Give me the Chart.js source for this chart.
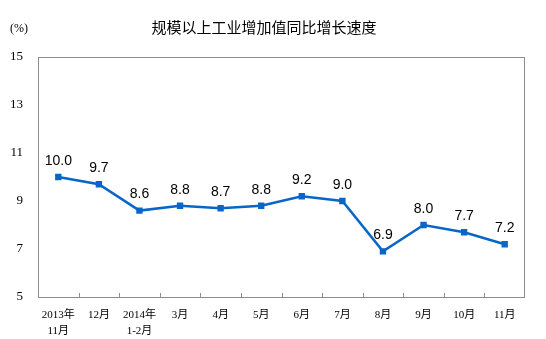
<!DOCTYPE html>
<html>
<head>
<meta charset="utf-8">
<script src="https://cdn.jsdelivr.net/npm/chart.js@4/dist/chart.umd.min.js"></script>
<style>
  html, body { margin: 0; padding: 0; background: #fff; }
  #wrap { width: 546px; height: 339px; }
</style>
</head>
<body>
<div id="wrap"><canvas id="chart" width="546" height="339"></canvas></div>
<script>
const MONTHS = [['2013年', '11月'], '12月', ['2014年', '1-2月'], '3月', '4月', '5月', '6月', '7月', '8月', '9月', '10月', '11月'];
const GROWTH = [10.0, 9.7, 8.6, 8.8, 8.7, 8.8, 9.2, 9.0, 6.9, 8.0, 7.7, 7.2];
const Y_TICKS = [5, 7, 9, 11, 13, 15];

const TITLE = '规模以上工业增加值同比增长速度';
const LINE_COLOR = '#0866c8';

// title, unit, plot frame, small inner tick marks and value labels
const decor = {
  id: 'decor',
  afterDraw(chart) {
    const ctx = chart.ctx;
    const a = chart.chartArea;
    const x = chart.scales.x;
    ctx.save();
    ctx.fillStyle = '#000';
    ctx.textAlign = 'center';
    ctx.textBaseline = 'middle';
    ctx.font = '15px "Noto Sans CJK SC"';
    ctx.fillText(TITLE, 264, 27);
    ctx.font = '12px "Liberation Serif"';
    ctx.fillText('(%)', 19, 29);

    ctx.strokeStyle = '#8c8c8c';
    ctx.lineWidth = 1;
    ctx.strokeRect(a.left + 0.5, a.top + 0.5, a.right - a.left - 1, a.bottom - a.top);
    ctx.beginPath();
    for (let i = 0; i < GROWTH.length - 1; i++) {
      const px = Math.round((x.getPixelForValue(i) + x.getPixelForValue(i + 1)) / 2) + 0.5;
      ctx.moveTo(px, a.bottom);
      ctx.lineTo(px, a.bottom - 4);
    }
    ctx.stroke();

    const meta = chart.getDatasetMeta(0);
    ctx.font = '14px "Liberation Sans Narrow", "Liberation Sans"';
    ctx.fillStyle = '#000';
    meta.data.forEach((p, i) => {
      ctx.fillText(GROWTH[i].toFixed(1), p.x, p.y - 16);
    });
    ctx.restore();
  }
};

new Chart(document.getElementById('chart'), {
  type: 'line',
  data: {
    labels: MONTHS,
    datasets: [{
      data: GROWTH,
      borderColor: LINE_COLOR,
      backgroundColor: LINE_COLOR,
      borderWidth: 2.5,
      pointStyle: 'rect',
      pointRadius: 4.5,
      pointBorderWidth: 0,
      tension: 0
    }]
  },
  options: {
    responsive: false,
    animation: false,
    layout: { padding: { left: 0, right: 21, top: 57, bottom: 0 } },
    plugins: { legend: { display: false }, tooltip: { enabled: false } },
    scales: {
      x: {
        offset: true,
        grid: { display: false },
        border: { display: false },
        afterFit(s) { s.height = 42; },
        ticks: {
          color: '#000',
          padding: 2,
          maxRotation: 0,
          autoSkip: false,
          font: { family: '"Liberation Serif", "Noto Sans CJK SC"', size: 11, lineHeight: 1.45 }
        }
      },
      y: {
        min: 5,
        max: 15,
        afterBuildTicks(s) { s.ticks = Y_TICKS.map(v => ({ value: v })); },
        afterFit(s) { s.width = 38; },
        grid: { display: false, drawTicks: false },
        border: { display: false },
        ticks: {
          color: '#000',
          padding: 15,
          font: { family: '"Liberation Serif"', size: 13 }
        }
      }
    }
  },
  plugins: [decor]
});
</script>
</body>
</html>
